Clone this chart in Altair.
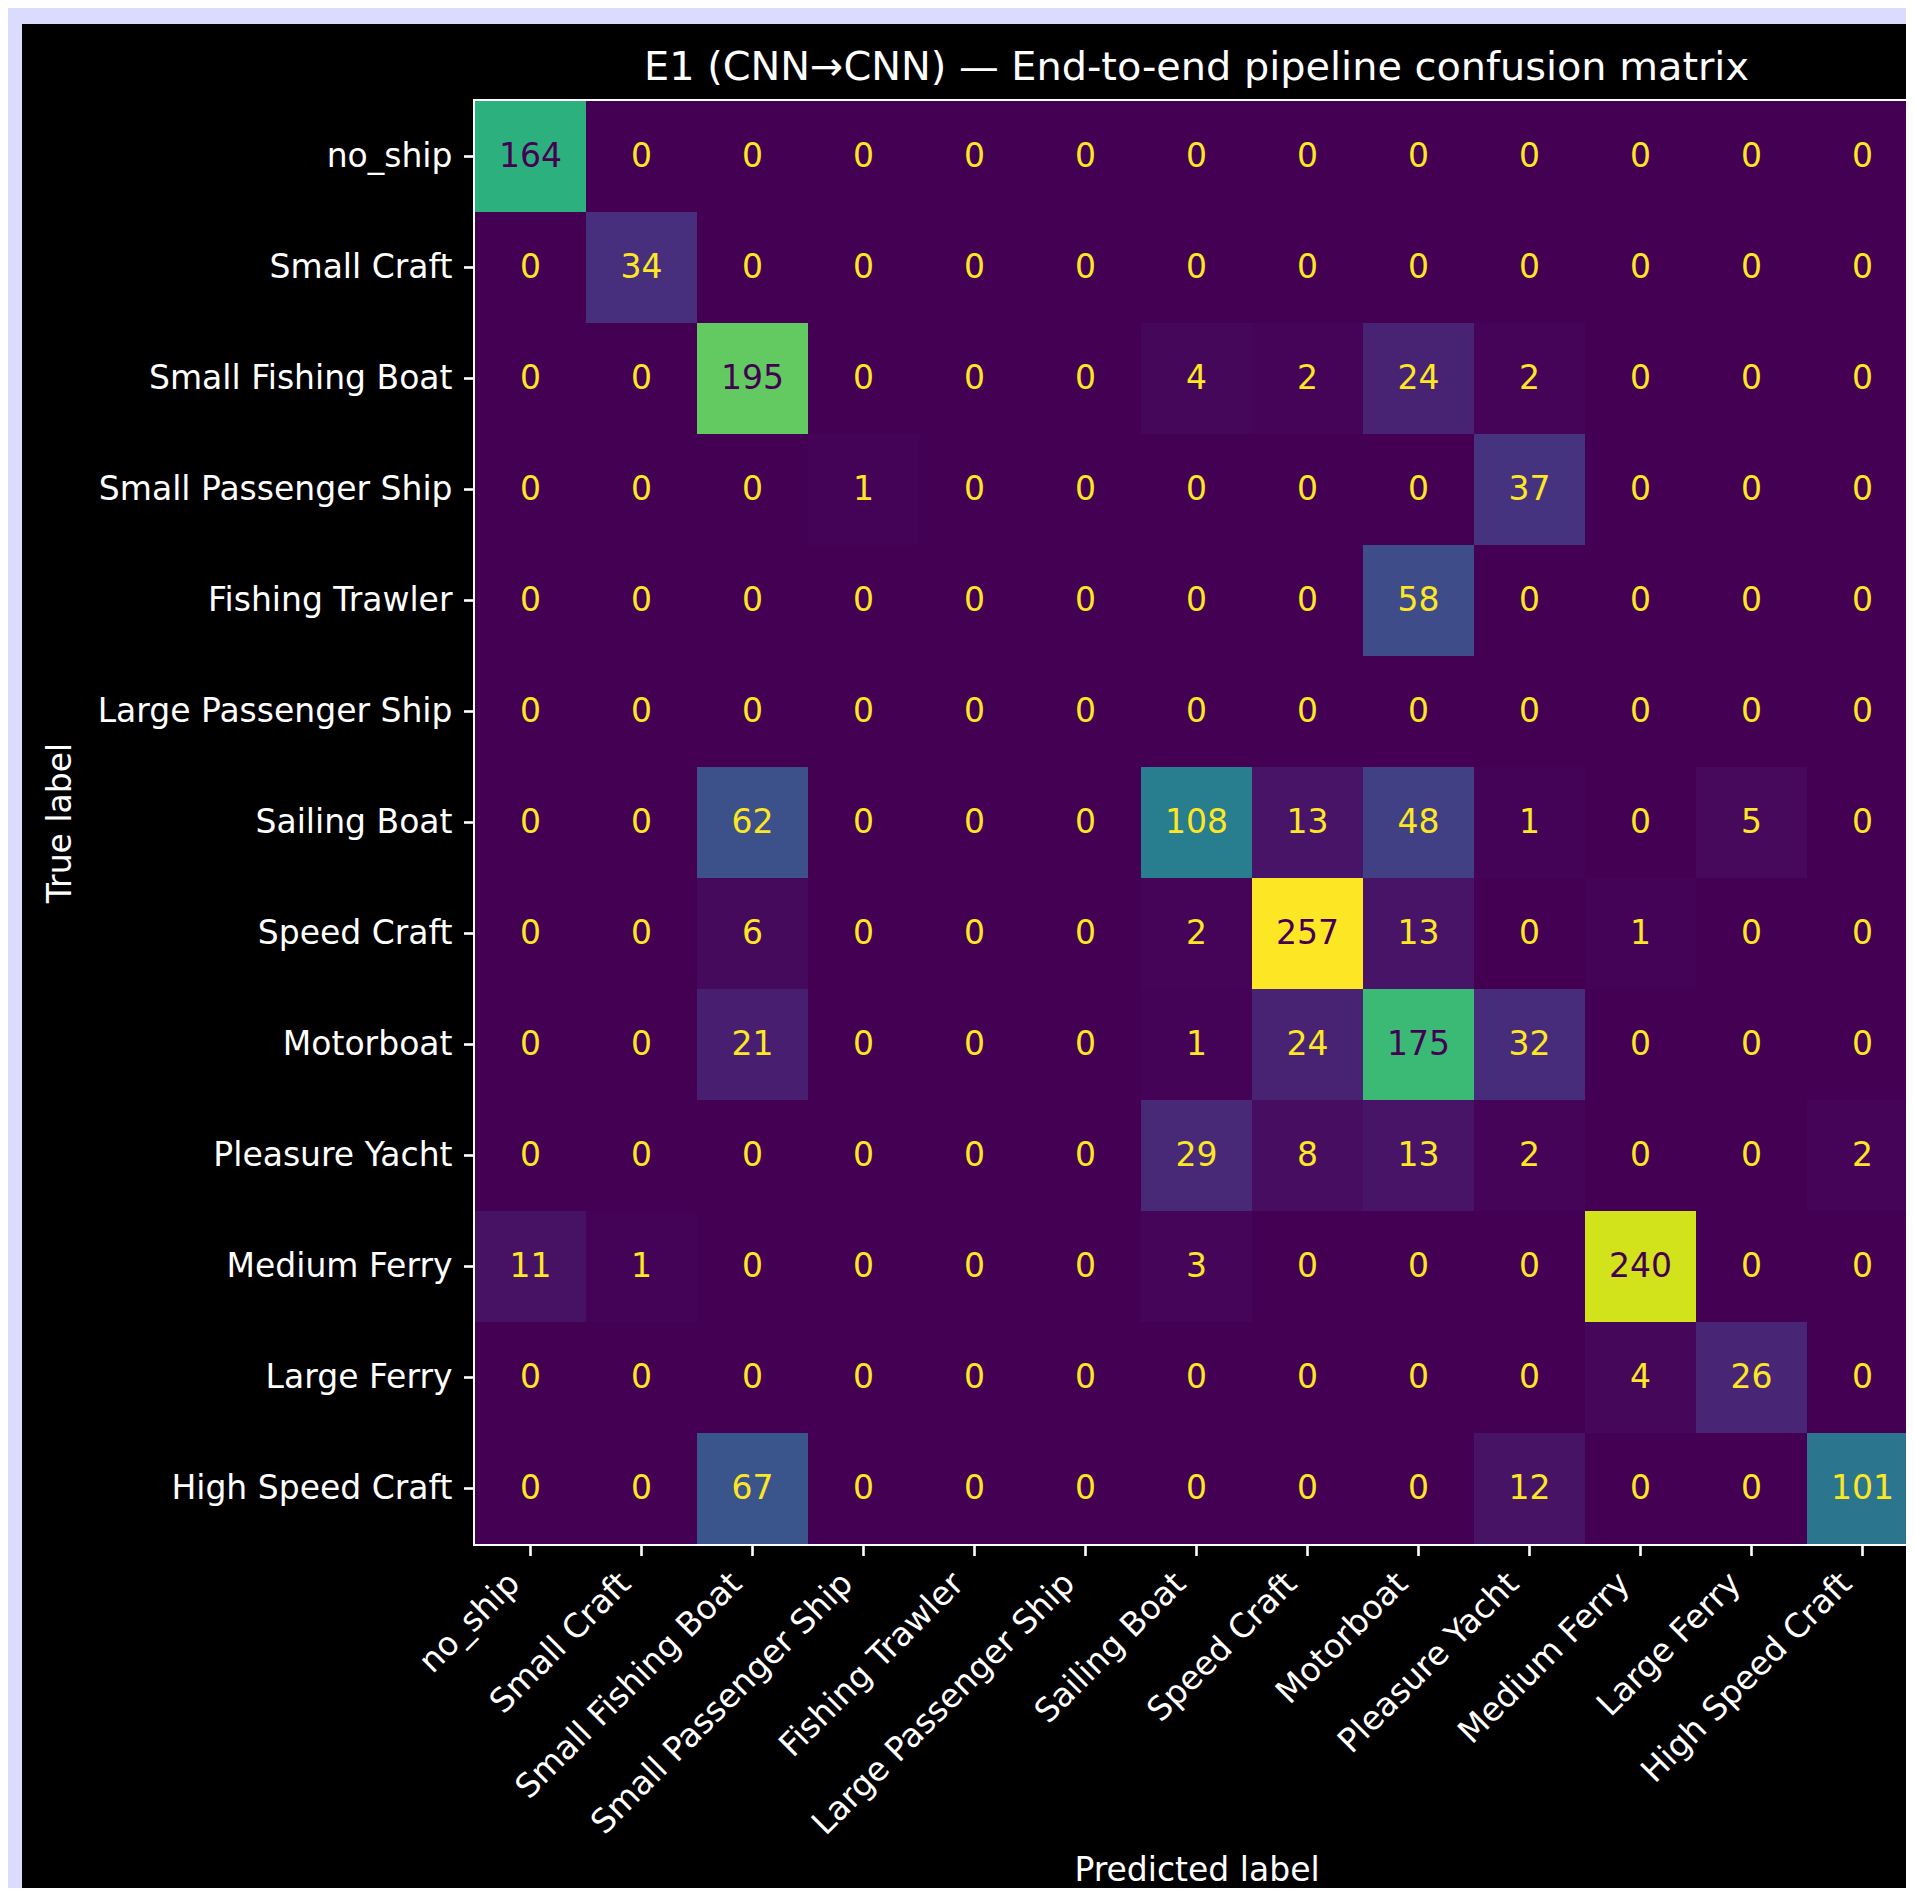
import altair as alt
import pandas as pd

labels = ["no_ship", "Small Craft", "Small Fishing Boat", "Small Passenger Ship",
          "Fishing Trawler", "Large Passenger Ship", "Sailing Boat", "Speed Craft",
          "Motorboat", "Pleasure Yacht", "Medium Ferry", "Large Ferry", "High Speed Craft"]

# rows = true label, columns = predicted label
matrix = [
    [164, 0, 0, 0, 0, 0, 0, 0, 0, 0, 0, 0, 0],
    [0, 34, 0, 0, 0, 0, 0, 0, 0, 0, 0, 0, 0],
    [0, 0, 195, 0, 0, 0, 4, 2, 24, 2, 0, 0, 0],
    [0, 0, 0, 1, 0, 0, 0, 0, 0, 37, 0, 0, 0],
    [0, 0, 0, 0, 0, 0, 0, 0, 58, 0, 0, 0, 0],
    [0, 0, 0, 0, 0, 0, 0, 0, 0, 0, 0, 0, 0],
    [0, 0, 62, 0, 0, 0, 108, 13, 48, 1, 0, 5, 0],
    [0, 0, 6, 0, 0, 0, 2, 257, 13, 0, 1, 0, 0],
    [0, 0, 21, 0, 0, 0, 1, 24, 175, 32, 0, 0, 0],
    [0, 0, 0, 0, 0, 0, 29, 8, 13, 2, 0, 0, 2],
    [11, 1, 0, 0, 0, 0, 3, 0, 0, 0, 240, 0, 0],
    [0, 0, 0, 0, 0, 0, 0, 0, 0, 0, 4, 26, 0],
    [0, 0, 67, 0, 0, 0, 0, 0, 0, 12, 0, 0, 101],
]

title_text = "E1 (CNN\u2192CNN) \u2014 End-to-end pipeline confusion matrix"
x_title = "Predicted label"
y_title = "True label"

rows = []
for i, t in enumerate(labels):
    for j, p in enumerate(labels):
        rows.append({"true": t, "pred": p, "count": matrix[i][j]})
df = pd.DataFrame(rows)

vmax = max(max(r) for r in matrix)
vmin = min(min(r) for r in matrix)
thresh = (vmax + vmin) / 2.0

FONT = "DejaVu Sans"
FS = 33
CELL = 111
W = CELL * len(labels)
LAV = "#dbdbfd"
PAD_L, PAD_T = 467, 93
SVG_W, SVG_H = 1898, 1880  # keep the page inside the window (no overflow)

xenc = alt.X("pred:N", sort=labels,
             scale=alt.Scale(paddingInner=0, paddingOuter=0),
             axis=alt.Axis(title=x_title, orient="bottom", labelAngle=315,
                           labelAlign="right", labelBaseline="bottom",
                           labelPadding=34.5, labelOffset=-4,
                           titleX=W / 2, titleY=336,
                           titleAlign="center", titleBaseline="alphabetic"))
yenc = alt.Y("true:N", sort=labels,
             scale=alt.Scale(paddingInner=0, paddingOuter=0),
             axis=alt.Axis(title=y_title, labelPadding=11.5, labelBaseline="middle",
                           titleAngle=270, titleX=-405, titleY=W / 2,
                           titleAlign="center", titleBaseline="alphabetic"))

base = alt.Chart(df)

heat = base.mark_rect().encode(
    x=xenc, y=yenc,
    color=alt.Color("count:Q", scale=alt.Scale(scheme="viridis", domain=[vmin, vmax]), legend=None),
)

text = base.mark_text(font=FONT, fontSize=FS, baseline="middle").encode(
    x=alt.X("pred:N", sort=labels),
    y=alt.Y("true:N", sort=labels),
    text=alt.Text("count:Q"),
    color=alt.condition(alt.datum.count < thresh, alt.value("#fde725"), alt.value("#440154")),
)

# page-surround strips and title (decoration)
one = alt.Data(values=[{"k": 1}])
left_strip = alt.Chart(one).mark_rect(color=LAV).encode(
    x=alt.value(-PAD_L), x2=alt.value(-PAD_L + 14), y=alt.value(-PAD_T), y2=alt.value(SVG_H - PAD_T))
top_strip = alt.Chart(one).mark_rect(color=LAV).encode(
    x=alt.value(-PAD_L), x2=alt.value(W), y=alt.value(-PAD_T), y2=alt.value(-PAD_T + 16))
title = alt.Chart(one).mark_text(
    text=title_text, font=FONT, fontSize=39.8, color="white",
    align="center", baseline="alphabetic",
).encode(x=alt.value(W / 2), y=alt.value(-21))

chart = alt.layer(left_strip, top_strip, heat, text, title).properties(
    width=W, height=W,
    autosize=alt.AutoSizeParams(type="none"),
    padding={"left": PAD_L, "top": PAD_T,
             "right": SVG_W - PAD_L - W, "bottom": SVG_H - PAD_T - W},
).configure(
    background="black",
).configure_view(
    stroke="white", strokeWidth=4,
).configure_axis(
    labelColor="white", tickColor="white", domainColor="white",
    tickSize=11.5, tickWidth=2.6, domainWidth=2.6,
    labelFont=FONT, labelFontSize=FS, titleFont=FONT, titleFontSize=FS,
    titleColor="white", titleFontWeight="normal", grid=False,
    labelLimit=1000, labelOverlap=False, zindex=1,
)

chart.save("out.html", embed_options={"renderer": "svg", "actions": False})
